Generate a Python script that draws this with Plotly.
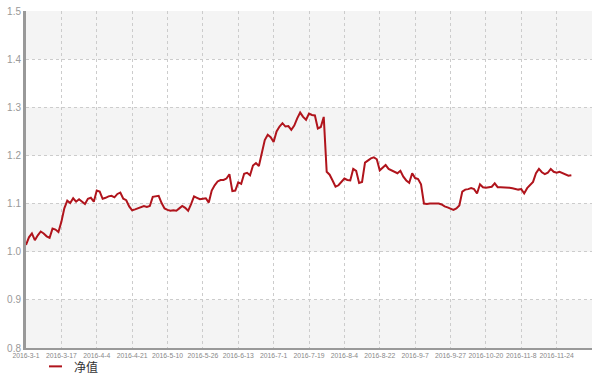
import plotly.graph_objects as go

series_name = "净值"
tick_labels = ["2016-3-1", "2016-3-17", "2016-4-4", "2016-4-21", "2016-5-10", "2016-5-26",
               "2016-6-13", "2016-7-1", "2016-7-19", "2016-8-4", "2016-8-22", "2016-9-7",
               "2016-9-27", "2016-10-20", "2016-11-8", "2016-11-24"]
tick_step = 12
axis_slots = 193

nav_values = [
    1.014, 1.030, 1.038, 1.024, 1.034, 1.042, 1.038, 1.032, 1.029, 1.048,
    1.046, 1.041, 1.062, 1.090, 1.106, 1.101, 1.111, 1.104, 1.109, 1.104,
    1.099, 1.110, 1.112, 1.104, 1.127, 1.125, 1.110, 1.112, 1.115, 1.116,
    1.113, 1.120, 1.123, 1.110, 1.107, 1.094, 1.086, 1.088, 1.090, 1.093,
    1.095, 1.093, 1.095, 1.114, 1.115, 1.116, 1.101, 1.090, 1.087, 1.085,
    1.086, 1.085, 1.090, 1.095, 1.091, 1.085, 1.099, 1.115, 1.112, 1.109,
    1.110, 1.111, 1.102, 1.127, 1.138, 1.146, 1.149, 1.149, 1.152, 1.161,
    1.126, 1.127, 1.144, 1.141, 1.162, 1.164, 1.159, 1.179, 1.184, 1.178,
    1.205, 1.232, 1.243, 1.238, 1.228, 1.250, 1.260, 1.267, 1.260, 1.261,
    1.253, 1.262, 1.277, 1.289, 1.280, 1.274, 1.287, 1.284, 1.283, 1.256,
    1.259, 1.280, 1.166, 1.160, 1.148, 1.135, 1.138, 1.145, 1.152, 1.149,
    1.148, 1.172, 1.168, 1.143, 1.145, 1.185, 1.190, 1.194, 1.196, 1.192,
    1.169, 1.175, 1.180, 1.172, 1.169, 1.166, 1.163, 1.168, 1.156, 1.148,
    1.143, 1.163, 1.153, 1.151, 1.140, 1.100, 1.099, 1.100, 1.100, 1.100,
    1.100, 1.098, 1.094, 1.092, 1.090, 1.087, 1.090, 1.096, 1.125, 1.129,
    1.130, 1.132, 1.130, 1.121, 1.140, 1.134, 1.133, 1.134, 1.135, 1.142,
    1.134, 1.134, 1.134, 1.133, 1.133, 1.132, 1.130, 1.129, 1.130, 1.121,
    1.132, 1.139, 1.145, 1.163, 1.172, 1.165, 1.161, 1.164, 1.172, 1.166,
    1.164, 1.166, 1.163, 1.160, 1.158, 1.159,
]

x_idx = list(range(len(nav_values)))
tickvals = [i * tick_step for i in range(len(tick_labels))] + [axis_slots - 1]
ticktext = tick_labels + [""]

fig = go.Figure()
fig.add_trace(go.Scatter(
    x=x_idx, y=nav_values, mode="lines", name=series_name,
    line=dict(color="#b0141c", width=2), showlegend=False,
))

# alternating bands
shapes = []
for lo in [0.8, 1.0, 1.2, 1.4]:
    shapes.append(dict(type="rect", xref="paper", yref="y", x0=0, x1=1, y0=lo, y1=lo + 0.1,
                       fillcolor="#f4f4f4", line=dict(width=0), layer="below"))
# legend icon
shapes.append(dict(type="line", xref="paper", yref="paper", x0=0.0406, x1=0.0636,
                   y0=-0.0545, y1=-0.0545, line=dict(color="#b0141c", width=2)))

fig.update_layout(
    width=599, height=375,
    margin=dict(l=26, r=7, t=11, b=27, autoexpand=False),
    paper_bgcolor="white", plot_bgcolor="white",
    font=dict(family="Arial, Liberation Sans, sans-serif"),
    shapes=shapes,
    annotations=[dict(text=series_name, xref="paper", yref="paper", x=0.0825, y=-0.0545,
                      xanchor="left", yanchor="middle", showarrow=False, borderpad=0,
                      font=dict(size=12, color="#333", family="Noto Sans CJK SC"))],
    xaxis=dict(range=[0, axis_slots - 1], tickmode="array", tickvals=tickvals, ticktext=ticktext,
               showgrid=True, gridcolor="#cccccc", griddash="3px,3px", gridwidth=1,
               showline=True, linecolor="#999", linewidth=2, zeroline=False, automargin=False,
               ticks="", tickfont=dict(size=6.8, color="#888")),
    yaxis=dict(range=[0.8, 1.5], dtick=0.1, tick0=0.8, tickformat=".1f",
               showgrid=True, gridcolor="#cccccc", griddash="3px,3px", gridwidth=1,
               showline=True, linecolor="#999", linewidth=3, zeroline=False, automargin=False,
               ticks="", tickfont=dict(size=10, color="#999")),
)

fig.write_html("out.html", config={"displayModeBar": False},
               post_script="document.body.style.margin='0';")
